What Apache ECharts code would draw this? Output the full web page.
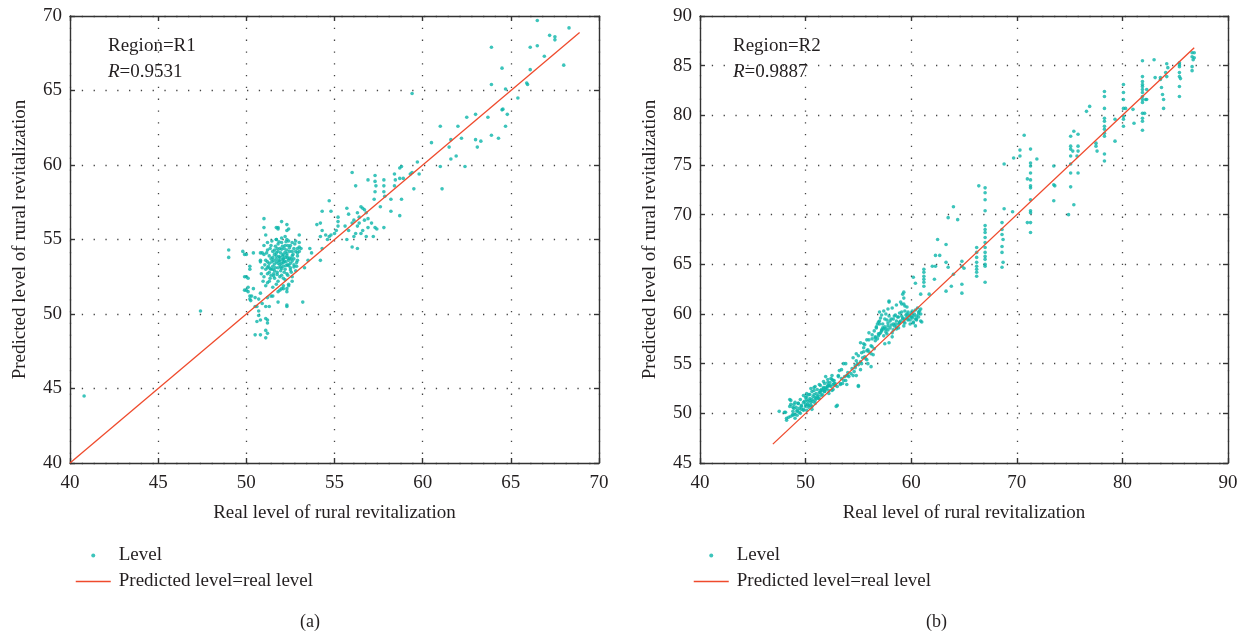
<!DOCTYPE html>
<html>
<head>
<meta charset="utf-8">
<script src="https://cdn.jsdelivr.net/npm/echarts@6/dist/echarts.min.js"></script>
<style>
  html, body { margin: 0; padding: 0; background: #fff; }
  #main { width: 1246px; height: 634px; }
</style>
</head>
<body>
<div id="main"></div>
<script>
// Region R1: real level vs predicted level
var r1Sparse = [
  [40.8,44.5],[47.4,50.2],[49.0,54.3],[49.0,53.8],[49.8,54.2],[50.0,54.0],[49.9,54.0],
  [50.2,53.2],[50.2,53.0],[49.9,52.5],[50.1,52.4],[49.9,51.6],[50.1,51.5],[50.4,51.7],
  [50.2,51.2],[50.2,51.0],[50.5,51.1],[50.7,51.0],[50.8,51.4],[50.6,50.5],[50.9,50.7],
  [51.2,51.1],[51.1,50.5],[50.7,50.2],[50.7,49.9],[50.8,49.6],[50.6,49.5],[51.1,49.7],
  [51.2,49.4],[51.1,48.9],[51.2,48.7],[50.5,48.6],[50.8,48.6],[51.1,48.4],[51.2,49.6],
  [51.3,50.5],[51.8,50.8],[52.3,50.5],[53.2,50.8],[51.4,51.2],[51.5,51.2],[52.0,51.7],
  [52.3,50.6],[52.3,51.5],[51.8,51.5],[52.1,51.7],[51.2,53.1],[50.0,52.5],[50.0,51.6],
  [50.1,51.8],[50.25,50.9],[50.5,50.5],[50.3,51.2],
  [51.0,56.4],[52.0,56.2],[51.7,55.8],[51.8,55.8],[51.0,55.8],[52.3,56.0],[52.4,55.7],
  [53.0,55.3],[51.1,55.3],[51.7,55.0],[52.2,55.2],[52.9,54.4],[53.0,54.2],[53.1,54.4],
  [50.8,53.5],[50.8,54.1],[50.4,54.1],[53.0,54.8],[52.3,55.6],[51.8,55.7]
];
var r1Cluster = [
  [51.2,52.1],[51.4,52.6],[51.6,52.9],[51.8,53.1],[52.0,53.4],[52.2,53.0],[52.4,53.6],
  [52.6,53.9],[52.8,54.2],[51.3,53.4],[51.5,53.8],[51.7,54.1],[51.9,54.4],[52.1,54.0],
  [52.3,54.3],[52.5,54.6],[52.7,54.4],[52.9,54.1],[51.1,53.0],[51.3,52.8],[51.5,53.2],
  [51.7,53.5],[51.9,53.8],[52.1,53.2],[52.3,52.7],[52.5,53.1],[52.7,53.3],[52.9,53.6],
  [51.0,54.0],[51.2,54.3],[51.4,54.6],[51.6,54.3],[51.8,54.7],[52.0,54.8],[52.2,54.6],
  [52.4,54.9],[52.6,54.2],[51.0,52.5],[51.2,52.7],[51.4,53.0],[51.6,52.4],[51.8,52.2],
  [52.0,52.6],[52.2,52.3],[52.4,52.0],[52.6,52.5],[51.1,53.6],[51.3,53.9],[51.5,54.2],
  [51.7,53.7],[51.9,53.3],[52.1,53.7],[52.3,53.9],[52.5,53.4],[52.7,53.7],[51.25,53.2],
  [51.45,53.5],[51.65,53.1],[51.85,53.6],[52.05,53.9],[52.25,53.5],[52.45,54.2],
  [52.65,54.0],[52.85,53.2],[51.35,52.4],[51.55,52.7],[51.75,52.8],[51.95,52.9],
  [52.15,52.8],[52.35,53.3],[52.55,52.8],[51.05,53.3],[51.15,54.1],[51.35,54.4],
  [51.55,53.6],[51.75,54.4],[51.95,54.1],[52.15,54.4],[52.35,54.6],[52.55,53.7],
  [52.75,54.7],[50.9,53.1],[50.85,52.7],[50.95,52.2],[51.1,51.9],[51.3,52.2],[51.5,51.8],
  [51.7,52.0],[51.9,51.6],[52.1,51.9],[52.3,51.7],[50.8,53.6],[50.9,54.1],[51.0,54.6],
  [51.2,54.8],[51.45,54.9],[51.7,55.0],[52.0,55.1],[52.3,55.0],[52.6,54.8],[52.8,54.9],
  [53.0,54.5],[52.9,53.9],[52.8,52.9],[52.6,52.2],[52.4,51.9],[51.6,53.35],[51.8,53.4],
  [52.0,53.05],[52.2,53.8],[52.4,53.25],[51.5,53.0],[51.7,53.9],[51.9,52.5],[52.1,52.4],
  [52.3,54.05],[51.4,53.7],[51.6,54.0],[51.8,54.2],[52.0,54.35],[52.2,54.15],
  [52.45,53.75],[52.6,53.55],[51.2,53.5],[51.35,53.05],[51.55,52.55],[51.75,52.65],
  [51.95,53.15],[52.15,53.55],[52.35,52.6],[52.5,52.95],[52.7,53.15],[52.85,53.45],
  [51.65,54.55],[51.85,54.85],[52.05,54.55],[52.25,54.85],[52.45,54.45],
  [51.9,53.55],[52.1,53.45],[52.25,53.25],[51.85,53.85],[52.35,53.75],[52.05,53.65]
];
var r1Upper = [
  [66.5,69.7],[68.3,69.2],[67.2,68.7],[67.5,68.6],[67.5,68.4],[63.9,67.9],[66.1,67.9],
  [66.5,68.0],[66.9,67.3],[68.0,66.7],[64.5,66.5],[66.1,66.4],[63.9,65.4],[64.7,65.1],
  [65.9,65.5],[65.95,65.4],[65.4,64.5],[59.4,64.8],[64.5,63.7],[64.55,63.75],[64.8,63.4],
  [64.7,62.6],[63.7,63.2],[63.0,63.4],[62.5,63.2],[63.9,62.0],[64.3,61.8],[63.3,61.6],
  [63.1,61.2],[63.0,61.7],[61.0,62.6],[62.0,62.6],[62.2,61.8],[61.6,61.7],[61.5,61.2],
  [60.5,61.5],[61.9,60.6],[61.6,60.4],[62.4,59.9],[61.0,59.9],[61.1,58.4],[59.7,60.2],
  [59.8,59.4],[59.4,59.5],[59.3,59.4],[58.7,59.8],[58.8,59.9],[58.4,59.4],[58.7,59.1],
  [58.9,59.1],[58.4,58.6],[58.45,59.0],[59.5,58.4],[57.8,59.0],[57.8,58.6],[57.8,58.2],
  [57.85,57.9],[57.3,59.3],[57.3,58.9],[57.35,58.6],[57.3,58.2],[57.25,57.7],[56.9,59.0],
  [58.2,57.7],[58.8,57.7],[57.6,57.2],[58.2,56.9],[58.7,56.6],[57.8,55.8],[57.2,55.2],
  [56.0,59.5],[56.2,58.6],[56.5,57.2],[56.6,57.1],[56.7,57.0],[56.8,56.8],[56.4,56.5],
  [56.7,56.3],[56.3,56.8],[56.1,56.3],[56.0,56.1],[55.8,56.7],[55.7,57.1],[56.9,56.4],
  [56.9,55.8],[56.6,55.6],[56.3,55.9],[56.2,55.4],[56.1,55.2],[56.0,54.5],[56.3,54.4],
  [55.7,55.0],[57.3,55.8],[57.4,55.7],[57.1,56.1],[56.8,55.2],[55.6,55.9],[55.8,55.6],
  [56.4,56.1],[56.5,55.4],[54.3,56.9],[54.8,56.9],[55.2,56.5],[55.2,56.2],[55.2,55.9],
  [55.1,55.6],[55.0,55.4],[54.8,55.3],[54.7,55.2],[54.6,55.0],[54.5,55.3],[54.3,55.6],
  [54.2,56.1],[54.0,56.0],[54.2,55.2],[54.3,54.4],[54.2,53.6],[53.6,54.4],[53.7,54.1],
  [53.3,53.1],[54.7,57.6],[53.5,53.6]
];
var r1Line = [[40, 40], [68.9, 68.9]];

// Region R2
var r2Low = [
  [47.5,50.2],[48.1,50.1],[48.2,49.5],[48.5,51.4],[48.6,50.9],[48.8,50.6],[48.8,49.9],
  [49.0,51.1],[49.2,49.8],[49.4,50.1],[49.6,50.4],[49.8,51.8],[50.0,50.9],[50.1,51.4],
  [50.3,51.9],[50.5,51.1],[50.6,50.4],[50.8,52.6],[50.9,51.6],[51.1,52.4],[51.3,52.1],
  [51.4,52.8],[51.6,52.3],[51.8,53.0],[51.9,52.6],[52.1,53.1],[52.2,52.8],[52.4,53.5],
  [52.6,52.4],[52.7,53.3],[53.0,50.8],[53.1,53.8],[53.2,54.3],[53.4,53.5],[53.6,55.0],
  [53.9,53.8],[54.0,54.1],[54.4,54.5],[54.5,55.6],[54.7,54.8],[54.8,53.8],[55.0,52.8],
  [55.0,55.8],[48.0,50.1],[48.2,49.3],[48.5,50.7],[48.6,51.3],[48.8,49.8],[48.9,50.5],
  [49.0,49.5],[49.2,50.2],[49.3,51.0],[49.5,50.0],[49.6,50.7],[49.8,50.3],[49.9,51.2],
  [50.1,51.7],[50.3,50.8],[50.4,51.3],[50.6,50.7],[50.7,51.7],[50.9,51.0],[51.0,52.0],
  [51.2,51.5],[51.4,52.3],[51.5,51.8],[51.7,52.5],[51.8,52.2],[51.9,53.7],[52.1,52.7],
  [52.2,52.0],[52.3,52.8],[52.5,52.3],[52.6,53.3],[52.8,52.8],[52.9,50.7],[53.1,53.7],
  [53.3,53.0],[53.4,54.4],[53.6,53.3],[53.7,53.7],[53.8,55.0],[53.9,52.9],[54.0,53.8],
  [54.5,53.8],[54.7,54.6],[54.3,54.0],[54.1,53.7],[53.8,53.3],[53.5,53.0],[53.3,52.9],
  [53.0,52.7],[52.8,53.0],[52.6,52.9],[52.4,52.7],[52.2,52.3],[52.0,52.5],[51.8,52.2],
  [51.6,51.9],[51.4,52.1],[51.2,51.8],[51.0,51.5],[50.8,51.9],[50.6,51.4],[50.4,51.5],
  [50.2,50.9],[50.0,50.7],[49.8,50.4],[49.6,50.8],[49.4,50.5],[49.2,50.3],[49.0,49.9],
  [48.8,50.2],[48.6,49.7],[48.4,49.6],[50.1,50.3],[50.3,50.6],[50.5,50.8],[50.7,51.2],
  [50.9,51.3],[51.1,51.7],[51.3,51.5],[51.5,52.4],[51.7,52.6],[51.9,52.4],[52.1,52.8],
  [52.3,53.1],[52.5,53.4],[52.7,53.0],[50.2,51.2],[50.4,51.9],[50.6,52.2],[50.8,52.3],
  [50.0,51.6],[49.8,51.1],[49.5,51.4],[49.3,51.0],[49.1,50.6],[48.9,50.9],[50.1,52.0],
  [50.5,52.5],[50.9,52.7],[51.3,52.9],[51.7,53.2],[52.1,53.4],[52.5,53.8]
];
var r2Mid = [
  [55.2,57.1],[55.3,56.1],[55.5,56.6],[55.7,55.5],[55.8,56.3],[55.9,55.0],[56.0,58.1],
  [56.2,56.8],[56.3,57.5],[56.5,56.5],[56.6,57.6],[56.8,59.0],[56.9,57.8],[57.0,60.2],
  [57.1,58.1],[57.3,58.6],[57.5,59.5],[57.6,58.5],[57.8,59.1],[57.9,61.3],[57.9,57.1],
  [58.1,59.5],[58.3,59.0],[58.4,59.8],[58.6,59.3],[58.8,58.6],[58.9,59.1],[59.1,61.0],
  [59.2,59.5],[59.3,62.2],[59.4,60.8],[59.6,60.0],[59.7,59.5],[59.9,59.8],[60.1,60.3],
  [60.2,59.1],[60.4,59.5],[60.5,59.8],[60.7,60.2],[60.9,60.5],[60.9,59.3],
  [54.8,56.0],[54.9,55.0],[55.0,52.7],[55.2,54.4],[55.3,55.0],[55.5,57.0],[55.5,56.2],
  [55.6,55.7],[55.8,55.4],[55.9,56.4],[56.0,57.4],[56.2,54.7],[56.3,56.7],[56.4,55.9],
  [56.6,57.7],[56.7,58.7],[56.9,58.0],[57.0,59.0],[57.2,58.4],[57.4,58.5],[57.5,57.0],
  [57.7,58.0],[57.8,58.8],[57.9,61.2],[58.0,59.3],[58.2,57.7],[58.3,58.4],[58.5,59.0],
  [58.6,58.7],[58.8,59.7],[58.9,59.2],[59.1,60.2],[59.2,62.0],[59.3,61.0],[59.3,58.8],
  [59.4,59.5],[59.6,60.7],[59.7,59.4],[59.9,59.0],[60.0,59.7],[60.2,59.2],[60.4,58.8],
  [60.5,59.5],[60.7,60.0],[60.8,60.3],[61.0,59.2],
  [56.3,57.9],[56.5,58.3],[56.7,58.6],[56.9,59.2],[57.1,59.6],[57.3,59.0],[57.5,58.7],
  [57.7,59.4],[57.9,59.8],[58.1,58.9],[58.3,59.5],[58.5,59.9],[58.7,59.7],[58.9,60.1],
  [59.1,59.8],[59.3,59.2],[59.5,59.9],[59.7,60.2],[59.9,59.4],[60.1,59.6],[60.3,60.0],
  [60.5,59.4],[60.7,59.7],[60.9,60.0],[56.6,57.3],[56.8,57.5],[57.0,58.0],[57.2,58.3],
  [57.4,57.8],[57.6,58.2],[57.8,58.4],[58.0,58.6],[58.2,58.1],[58.4,58.8],[58.6,58.5],
  [58.8,59.0],[59.0,59.3],[59.2,59.6],[59.4,59.1],[59.6,59.7],[59.8,59.9],[60.0,60.1],
  [60.2,59.8],[60.4,60.4],[60.6,60.6],[57.0,59.3],[57.2,59.9],[57.4,60.3],[57.6,60.0],
  [57.8,60.5],[58.2,60.6],[58.6,60.9],[59.0,61.2],[59.3,61.6],[59.4,60.3],[55.6,56.9],
  [55.8,57.4],[56.0,56.2],[56.2,56.0],[55.4,55.6],[55.2,55.2],[55.0,54.9],[54.8,55.3],
  [54.6,54.2]
];
var r2High = [
  [61.2,64.5],[61.2,64.2],[61.2,63.8],[61.2,63.5],[61.2,63.2],[61.2,62.8],[60.2,63.7],
  [60.4,63.1],[60.9,62.0],[61.7,62.0],[62.0,64.8],[62.3,64.8],[62.2,63.5],[62.3,65.9],
  [62.7,65.9],[62.5,67.5],[63.3,67.0],[63.3,65.2],[63.5,64.7],[63.3,62.3],[63.8,62.8],
  [64.0,64.0],[63.5,69.7],[64.0,70.8],[64.4,69.5],[64.8,65.3],[64.8,63.0],[64.8,62.1],
  [64.8,64.8],[65.0,64.6],
  [66.2,66.7],[66.2,66.2],[66.2,65.7],[66.2,65.2],[66.2,64.8],[66.2,64.5],[66.2,64.2],
  [66.2,63.8],[66.4,72.9],
  [67.0,72.7],[67.0,72.2],[67.0,71.5],[67.0,70.4],[67.0,68.9],[67.0,68.5],[67.0,68.2],
  [67.0,67.7],[67.0,67.2],[67.0,66.7],[67.0,66.2],[67.0,65.8],[67.0,65.5],[67.0,65.0],
  [67.0,64.8],[67.0,63.2],
  [68.6,69.2],[68.6,68.5],[68.6,68.0],[68.7,67.5],[68.6,66.8],[68.6,66.2],[68.7,65.2],
  [68.6,64.7],[68.8,75.1],[68.8,70.6],[69.6,70.3],[69.7,75.7],[70.3,75.9],[70.7,78.0],
  [70.3,76.5],
  [71.3,76.6],[71.3,75.2],[71.3,74.9],[71.3,74.2],[71.3,73.5],[71.3,72.9],[71.3,72.7],
  [71.3,71.5],[71.3,70.4],[71.3,70.2],[71.3,69.2],[71.3,68.2],[71.0,73.6],[71.0,69.2],
  [71.9,75.6],
  [73.5,74.9],[73.5,73.0],[73.6,72.9],[73.5,71.4],[74.9,70.0],[75.4,71.0],
  [75.1,77.9],[75.1,76.9],[75.1,76.6],[75.1,75.9],[75.1,75.1],[75.1,74.2],[75.1,72.8],
  [75.4,78.4],[75.8,78.1],[75.3,76.4],[75.8,76.9],[75.8,76.4],[75.8,74.2],[75.7,75.9],
  [76.6,80.4],[76.9,80.9],[77.5,76.9],[77.6,76.4],[77.5,77.2],
  [78.3,82.4],[78.3,81.9],[78.3,80.7],[78.3,79.7],[78.3,79.4],[78.3,78.9],[78.3,78.6],
  [78.3,78.2],[78.3,77.9],[78.3,76.1],[78.3,75.4],[79.3,79.6],[79.3,77.4],
  [80.1,83.1],[80.1,82.3],[80.1,81.6],[80.1,80.7],[80.1,79.9],[80.1,79.6],[80.1,78.9],
  [80.3,80.7],[81.0,80.6],[81.1,79.2],
  [81.9,85.5],[81.9,83.9],[81.9,83.4],[81.9,83.1],[81.9,82.9],[81.9,82.6],[81.9,82.3],
  [81.9,81.9],[81.9,81.6],[81.9,81.3],[81.9,80.2],[81.9,79.7],[81.9,79.4],[81.9,78.5],
  [82.3,81.6],[82.2,81.6],[82.1,80.2],[82.3,82.6],[83.0,85.6],[83.1,83.8],
  [83.6,83.8],[83.7,82.8],[83.8,82.1],[83.9,81.6],[83.9,80.7],[83.6,83.6],
  [84.2,85.2],[84.3,84.8],[84.2,83.9],[84.1,84.3],
  [85.4,85.3],[85.4,85.1],[85.4,84.9],[85.4,84.3],[85.4,83.9],[85.4,82.9],[85.4,81.9],
  [85.5,83.7],[86.6,86.3],[86.6,85.9],[86.7,85.6],[86.8,85.8],[86.6,84.9],[86.6,84.5],
  [86.8,86.3]
];
var r2Line = [[46.9, 46.9], [86.8, 86.8]];

var levelR1 = r1Sparse.concat(r1Cluster, r1Upper);
var levelR2 = r2Low.concat(r2Mid, r2High);

var TEXT = '#231f20';
var FONT = 'Liberation Serif';
var TEAL = '#0bb5aa';
var RED = '#ef4a2c';

var mainAxis = function(pos, min, max, interval, grid, name, nameGap){
  return {
    type: 'value', gridIndex: grid, position: pos,
    min: min, max: max, interval: interval,
    name: name, nameLocation: 'middle', nameGap: nameGap,
    nameTextStyle: { color: TEXT, fontFamily: FONT, fontSize: 19 },
    axisLine: { show: true, onZero: false, lineStyle: { color: '#333', width: 1.4 } },
    axisTick: { show: true, inside: true, length: 5, lineStyle: { color: '#333', width: 1.4 } },
    axisLabel: { color: TEXT, fontFamily: FONT, fontSize: 19, margin: pos == 'bottom' ? 11 : 8 },
    splitLine: { show: true, lineStyle: { color: '#444', width: 1.3, type: [1.3, 10.5] } }
  };
};
var mirrorAxis = function(pos, min, max, interval, grid){
  return {
    type: 'value', gridIndex: grid, position: pos,
    min: min, max: max, interval: interval,
    axisLine: { show: true, onZero: false, lineStyle: { color: '#333', width: 1.4 } },
    axisTick: { show: true, inside: true, length: 5, lineStyle: { color: '#333', width: 1.4 } },
    axisLabel: { show: false },
    splitLine: { show: false }
  };
};
var legendItems = [
  { name: 'Level', icon: 'circle' },
  { name: 'Predicted level=real level', itemStyle: { opacity: 0 }, lineStyle: { color: RED, width: 1.5 } }
];
var richNote = {
  n: { fontFamily: FONT, fontSize: 19, fontWeight: 'normal', color: TEXT, lineHeight: 26 },
  i: { fontFamily: FONT, fontSize: 19, fontWeight: 'normal', color: TEXT, fontStyle: 'italic', lineHeight: 26 }
};

var chart = echarts.init(document.getElementById('main'));
chart.setOption({
  backgroundColor: '#fff',
  animation: false,
  grid: [
    { left: 70, top: 16, width: 529, height: 447 },
    { left: 700, top: 16, width: 528, height: 447 }
  ],
  xAxis: [
    mainAxis('bottom', 40, 70, 5, 0, 'Real level of rural revitalization', 41),
    mainAxis('bottom', 40, 90, 10, 1, 'Real level of rural revitalization', 41),
    mirrorAxis('top', 40, 70, 5, 0),
    mirrorAxis('top', 40, 90, 10, 1)
  ],
  yAxis: [
    mainAxis('left', 40, 70, 5, 0, 'Predicted level of rural revitalization', 40),
    mainAxis('left', 45, 90, 5, 1, 'Predicted level of rural revitalization', 40),
    mirrorAxis('right', 40, 70, 5, 0),
    mirrorAxis('right', 45, 90, 5, 1)
  ],
  legend: [
    { left: 70, top: 541, orient: 'vertical', itemWidth: 35, itemHeight: 4, itemGap: 7,
      data: legendItems,
      textStyle: { color: TEXT, fontFamily: FONT, fontSize: 19, padding: [0, 0, 0, 3] } },
    { left: 688, top: 541, orient: 'vertical', itemWidth: 35, itemHeight: 4, itemGap: 7,
      data: legendItems,
      textStyle: { color: TEXT, fontFamily: FONT, fontSize: 19, padding: [0, 0, 0, 3] } }
  ],
  title: [
    { text: '{n|Region=R1}\n{i|R}{n|=0.9531}', left: 103, top: 28, textStyle: { rich: richNote } },
    { text: '{n|Region=R2}\n{i|R}{n|=0.9887}', left: 728, top: 28, textStyle: { rich: richNote } },
    { text: '(a)', left: 295, top: 608, textStyle: { fontFamily: FONT, fontSize: 18, fontWeight: 'normal', color: TEXT } },
    { text: '(b)', left: 921, top: 608, textStyle: { fontFamily: FONT, fontSize: 18, fontWeight: 'normal', color: TEXT } }
  ],
  series: [
    { name: 'Level', type: 'scatter', xAxisIndex: 0, yAxisIndex: 0, data: levelR1,
      symbolSize: 3.6, itemStyle: { color: TEAL } },
    { name: 'Predicted level=real level', type: 'line', xAxisIndex: 0, yAxisIndex: 0, data: r1Line,
      symbol: 'none', lineStyle: { color: RED, width: 1.3 }, itemStyle: { color: RED } },
    { name: 'Level', type: 'scatter', xAxisIndex: 1, yAxisIndex: 1, data: levelR2,
      symbolSize: 3.6, itemStyle: { color: TEAL } },
    { name: 'Predicted level=real level', type: 'line', xAxisIndex: 1, yAxisIndex: 1, data: r2Line,
      symbol: 'none', lineStyle: { color: RED, width: 1.3 }, itemStyle: { color: RED } }
  ]
});
</script>
</body>
</html>
